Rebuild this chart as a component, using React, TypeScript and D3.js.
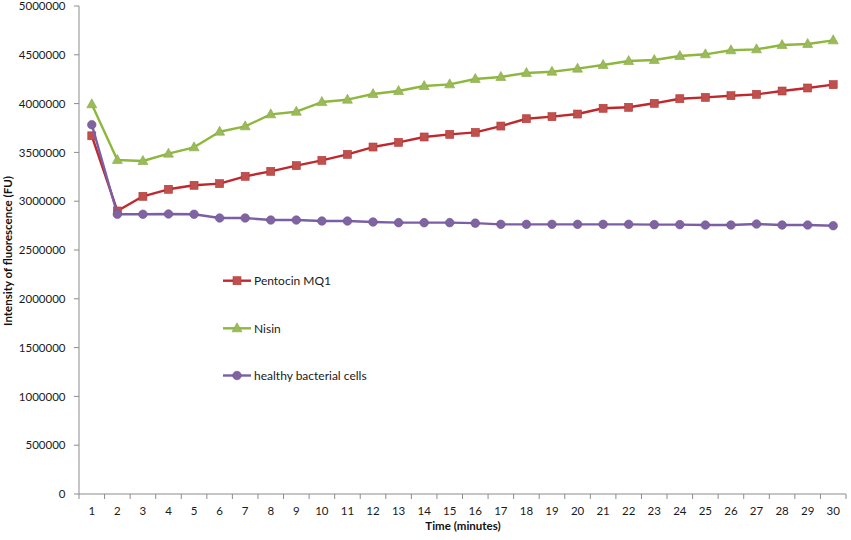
import React from "react";
import * as d3 from "d3";

const minutes = d3.range(1, 31).map(String);
const yTicks = [0, 500000, 1000000, 1500000, 2000000, 2500000, 3000000, 3500000, 4000000, 4500000, 5000000];

const pentocin = [3670000, 2900000, 3050000, 3122000, 3163000, 3180000, 3255000, 3306000, 3364000, 3419000,
  3480000, 3555000, 3603000, 3658000, 3685000, 3705000, 3770000, 3845000, 3866000, 3893000,
  3952000, 3962000, 4003000, 4050000, 4064000, 4081000, 4095000, 4129000, 4160000, 4194000];
const nisin = [3993000, 3422000, 3412000, 3487000, 3552000, 3712000, 3767000, 3890000, 3917000, 4016000,
  4040000, 4098000, 4129000, 4180000, 4197000, 4252000, 4273000, 4314000, 4327000, 4358000,
  4395000, 4436000, 4447000, 4488000, 4505000, 4546000, 4556000, 4600000, 4611000, 4648000];
const healthy = [3784000, 2866000, 2866000, 2869000, 2866000, 2828000, 2828000, 2807000, 2807000, 2797000,
  2797000, 2787000, 2780000, 2780000, 2780000, 2775000, 2763000, 2763000, 2763000, 2763000,
  2763000, 2763000, 2760000, 2760000, 2756000, 2756000, 2766000, 2756000, 2756000, 2749000];

const seriesNames = ["Pentocin MQ1", "Nisin", "healthy bacterial cells"];

const W = 851, H = 540;
const left = 79, right = 846, top = 6, bottom = 494;
const FONT = "Lato, 'Open Sans', sans-serif";

type S = { name: string; values: number[]; line: string; fill: string; marker: "square" | "triangle" | "circle" };
const series: S[] = [
  { name: seriesNames[0], values: pentocin, line: "#c0282d", fill: "#c0504d", marker: "square" },
  { name: seriesNames[1], values: nisin, line: "#8db83c", fill: "#9bbb59", marker: "triangle" },
  { name: seriesNames[2], values: healthy, line: "#7a5fa6", fill: "#8064a2", marker: "circle" },
];

function Marker({ kind, x, y, fill }: { kind: string; x: number; y: number; fill: string }) {
  if (kind === "square") return <rect x={x - 4} y={y - 4} width={8} height={8} fill={fill} stroke="#b03a37" strokeWidth={0.6} />;
  if (kind === "triangle") {
    const p = d3.path();
    p.moveTo(x, y - 5.5); p.lineTo(x + 5, y + 3.5); p.lineTo(x - 5, y + 3.5); p.closePath();
    return <path d={p.toString()} fill={fill} stroke="#89a84a" strokeWidth={0.6} />;
  }
  return <circle cx={x} cy={y} r={4.3} fill={fill} stroke="#6f558f" strokeWidth={0.6} />;
}

export default function App() {
  const x = d3.scaleBand<string>().domain(minutes).range([left, right]);
  const y = d3.scaleLinear().domain([0, 5000000]).range([bottom, top]);
  const cx = (m: string) => (x(m) as number) + x.bandwidth() / 2;
  const line = d3.line<number>().x((_, i) => cx(minutes[i])).y((v) => y(v));
  const legendY = [280.7, 328.3, 375.5];
  const axisColor = "#8c8c8c";
  const textColor = "#1a1a1a";

  return (
    <svg width={W} height={H} style={{ position: "absolute", left: 0, top: 0, background: "#fff" }}>
      <rect width={W} height={H} fill="#fff" />
      {/* y axis */}
      <line x1={left} x2={left} y1={top} y2={bottom} stroke={axisColor} strokeWidth={1} />
      {yTicks.map((t) => (
        <g key={t}>
          <line x1={left - 5} x2={left} y1={y(t)} y2={y(t)} stroke={axisColor} />
          <text x={65.5} y={y(t)} dy="0.36em" textAnchor="end" fontFamily={FONT} fontSize={11.5} fill={textColor}>{t}</text>
        </g>
      ))}
      {/* x axis */}
      <line x1={left} x2={right} y1={bottom} y2={bottom} stroke={axisColor} strokeWidth={1} />
      {minutes.map((m) => (
        <line key={"t" + m} x1={(x(m) as number) + x.bandwidth()} x2={(x(m) as number) + x.bandwidth()} y1={bottom} y2={bottom + 5} stroke={axisColor} />
      ))}
      <line x1={left} x2={left} y1={bottom} y2={bottom + 5} stroke={axisColor} />
      {minutes.map((m) => (
        <text key={"l" + m} x={cx(m)} y={515} textAnchor="middle" fontFamily={FONT} fontSize={11.5} fill={textColor}>{m}</text>
      ))}
      <text x={463} y={530} textAnchor="middle" fontFamily={FONT} fontSize={11.5} fontWeight="bold" fill="#111">Time (minutes)</text>
      <text transform={`translate(12,251) rotate(-90)`} textAnchor="middle" fontFamily={FONT} fontSize={11.5} fontWeight="bold" fill="#111">Intensity of fluorescence (FU)</text>
      {/* series */}
      {series.map((s) => (
        <g key={s.name}>
          <path d={line(s.values) as string} fill="none" stroke={s.line} strokeWidth={2.4} strokeLinejoin="round" />
          {s.values.map((v, i) => (
            <Marker key={i} kind={s.marker} x={cx(minutes[i])} y={y(v)} fill={s.fill} />
          ))}
        </g>
      ))}
      {/* legend */}
      {series.map((s, i) => (
        <g key={"lg" + s.name}>
          <line x1={223} x2={251} y1={legendY[i]} y2={legendY[i]} stroke={s.line} strokeWidth={2.4} />
          <Marker kind={s.marker} x={237} y={legendY[i]} fill={s.fill} />
          <text x={254} y={legendY[i]} dy="0.36em" fontFamily={FONT} fontSize={12} fill={textColor}>{s.name}</text>
        </g>
      ))}
    </svg>
  );
}
